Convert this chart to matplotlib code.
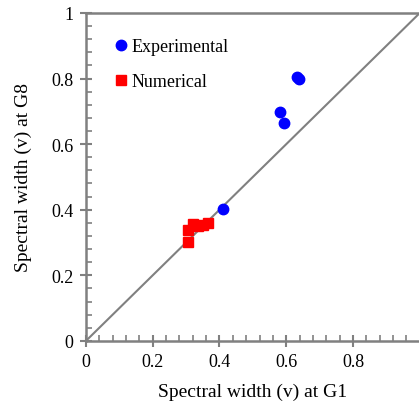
import matplotlib

matplotlib.use("Agg")
import matplotlib.pyplot as plt
from matplotlib.ticker import MultipleLocator

plt.rcParams["font.family"] = ["Liberation Serif", "DejaVu Serif"]

# values
exp_x = [0.41, 0.582, 0.594, 0.633, 0.639]
exp_y = [0.402, 0.698, 0.665, 0.805, 0.800]
num_x = [0.306, 0.306, 0.321, 0.336, 0.351, 0.366]
num_y = [0.302, 0.338, 0.357, 0.350, 0.352, 0.360]
diag = [0, 1]

fig = plt.figure(figsize=(4.19, 4.10), dpi=100)
ax = fig.add_axes([0.205, 0.166, 0.797, 0.80])

grey = "#808080"
ax.plot(diag, diag, color=grey, lw=1.5, zorder=1)
ax.plot(exp_x, exp_y, "o", color="#0000ff", ms=7.5, ls="none", label="Experimental", zorder=3)
ax.plot(num_x, num_y, "s", color="#ff0000", ms=6.5, ls="none", label="Numerical", zorder=3)

ax.set_xlim(0, 1)
ax.set_ylim(0, 1)
ax.xaxis.set_minor_locator(MultipleLocator(0.04))
ax.yaxis.set_minor_locator(MultipleLocator(0.04))
ax.set_xticks([0, 0.2, 0.4, 0.6, 0.8])
ax.set_xticklabels(["0", "0.2", "0.4", "0.6", "0.8"])
ax.set_yticks([0, 0.2, 0.4, 0.6, 0.8, 1.0])
ax.set_yticklabels(["0", "0.2", "0.4", "0.6", "0.8", "1"])
ax.tick_params(which="major", direction="inout", length=8, width=1.5, color=grey,
               labelsize=13, pad=5)
ax.tick_params(which="minor", direction="in", length=4, width=1.2, color=grey)

for side in ["left", "bottom", "top"]:
    ax.spines[side].set_color(grey)
    ax.spines[side].set_linewidth(1.8)
ax.spines["right"].set_visible(False)

ax.set_xlabel("Spectral width (v) at G1", fontsize=14, labelpad=9)
ax.set_ylabel("Spectral width (v) at G8", fontsize=14, labelpad=14)

ax.legend(loc="upper left", bbox_to_anchor=(0.05, 0.95), frameon=False, fontsize=13,
          handletextpad=0.1, labelspacing=1.0, handlelength=1.0, borderpad=0)

fig.savefig("out.png", dpi=100)
